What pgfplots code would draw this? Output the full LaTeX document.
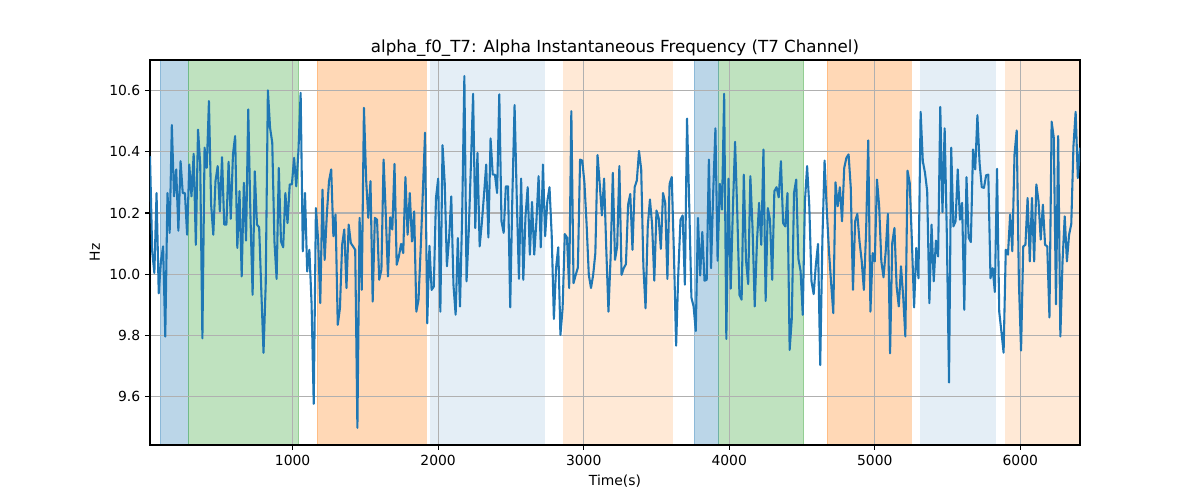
\documentclass[border=0pt]{standalone}
\usepackage{pgfplots}
\pgfplotsset{compat=1.18}
\usepackage{pgfplotstable}
\usepackage{fontspec}
\setmainfont{DejaVu Sans}
\definecolor{tabblue}{HTML}{1F77B4}
\definecolor{taborange}{HTML}{FF7F0E}
\definecolor{tabgreen}{HTML}{2CA02C}
\definecolor{gridgray}{HTML}{B0B0B0}
\pgfplotstableread{
y
10.385
10.075
10.004
10.265
9.938
10.042
10.091
9.797
10.265
10.135
10.487
10.254
10.342
10.142
10.369
10.265
10.265
10.129
10.358
10.254
10.393
10.096
10.472
10.358
9.791
10.413
10.347
10.565
10.227
10.129
10.304
10.353
10.205
10.382
10.162
10.162
10.367
10.181
10.391
10.451
10.086
10.271
9.993
10.298
10.110
10.538
10.195
9.933
10.336
10.162
10.153
9.944
9.744
9.966
10.600
10.478
10.429
10.107
9.985
10.347
10.107
10.088
10.265
10.167
10.293
10.293
10.380
10.287
10.402
10.592
10.075
10.265
10.009
10.080
9.906
9.577
10.216
10.113
9.906
10.276
10.047
10.195
10.304
10.342
10.124
10.195
9.835
9.889
10.096
10.146
9.955
10.162
10.102
10.091
10.080
9.499
10.184
9.949
10.543
10.309
10.184
10.304
9.911
10.184
10.178
9.982
10.015
10.374
10.195
9.993
10.186
10.146
10.360
10.031
10.058
10.099
10.069
10.317
10.129
10.265
10.107
10.205
9.878
9.917
10.086
10.271
10.462
9.840
10.093
9.949
9.960
10.249
10.312
9.878
10.421
10.298
10.026
10.118
10.254
9.966
9.868
10.118
9.895
10.195
10.647
9.977
10.140
10.358
10.589
10.151
10.396
10.091
10.167
10.260
10.358
10.120
10.443
10.325
10.325
10.265
10.587
10.173
10.135
10.287
10.287
9.892
10.260
10.552
10.249
9.985
10.312
9.982
10.189
10.284
10.064
10.236
10.064
10.173
10.320
10.088
10.358
10.124
10.238
10.284
10.129
9.854
10.020
10.088
9.802
9.889
10.131
10.120
9.955
10.532
9.971
9.998
10.022
10.374
10.371
10.298
10.162
9.998
9.955
9.998
10.069
10.389
10.295
10.192
10.312
10.083
9.878
10.058
10.331
10.047
10.091
10.353
9.998
10.020
10.033
10.227
10.262
10.080
10.284
10.306
10.402
10.342
10.026
9.889
10.156
10.244
10.162
9.979
10.208
10.184
10.083
10.265
10.233
9.985
10.295
10.317
10.064
9.767
10.004
10.178
10.192
9.966
10.508
10.227
9.924
9.895
9.815
10.184
9.996
10.138
9.979
9.982
10.374
10.020
10.271
10.476
10.044
10.295
10.211
10.589
9.789
10.312
9.953
10.214
10.432
10.203
9.933
9.917
10.325
10.047
9.968
10.320
10.151
9.895
10.102
10.233
10.096
10.407
9.913
10.216
10.178
9.982
10.271
10.284
10.251
10.369
10.167
10.156
10.265
9.753
9.857
10.265
10.309
10.051
10.011
9.868
10.238
10.353
10.222
9.977
9.935
10.031
10.099
9.704
10.113
10.371
10.211
10.077
9.971
9.873
10.300
10.222
10.284
10.173
10.347
10.380
10.391
10.282
9.949
10.173
10.197
10.107
10.044
9.949
10.135
10.437
9.878
10.069
10.042
10.309
10.222
10.042
9.990
10.075
10.197
9.742
10.102
10.151
9.960
9.895
10.026
9.928
9.797
10.338
10.298
10.107
9.892
10.086
9.987
10.530
10.369
10.331
10.271
9.906
10.162
9.977
10.110
10.058
10.546
10.203
10.476
10.129
9.647
10.413
10.156
10.173
10.342
10.178
10.233
9.884
10.317
10.120
10.105
10.407
10.342
10.519
10.363
10.284
10.282
10.323
10.325
9.987
10.020
9.942
10.344
9.878
9.813
9.744
10.080
10.064
10.195
10.075
10.391
10.469
9.977
9.751
10.091
10.096
10.249
10.042
10.249
10.042
10.293
10.238
10.113
10.227
10.096
10.091
9.859
10.498
10.445
9.902
10.451
9.797
10.042
10.189
10.042
10.129
10.164
10.418
10.530
10.314
10.413
}\datatable
\pgfplotsset{
  common/.style={
    at={(0pt,0pt)}, anchor=south west,
    width=669.6pt, height=277.2pt, scale only axis,
    xmin=20, xmax=6410, ymin=9.443, ymax=10.699,
    clip=true,
  },
  span/.style={forget plot},
}
\begin{document}
\begin{tikzpicture}
\path[use as bounding box] (-108pt,-39.6pt) rectangle (756pt,320.4pt);
% background axis: shaded spans only
\begin{axis}[common, hide axis]
\addplot[span, fill=tabblue, fill opacity=0.3, draw=tabblue, draw opacity=0.3] coordinates {(91,9.3) (91,10.8) (281,10.8) (281,9.3)} -- cycle;
\addplot[span, fill=tabgreen, fill opacity=0.3, draw=tabgreen, draw opacity=0.3] coordinates {(281,9.3) (281,10.8) (1041,10.8) (1041,9.3)} -- cycle;
\addplot[span, fill=taborange, fill opacity=0.3, draw=taborange, draw opacity=0.3] coordinates {(1168,9.3) (1168,10.8) (1917,10.8) (1917,9.3)} -- cycle;
\addplot[span, fill=tabblue, fill opacity=0.12, draw=none] coordinates {(1946,9.3) (1946,10.8) (2735,10.8) (2735,9.3)} -- cycle;
\addplot[span, fill=taborange, fill opacity=0.17, draw=none] coordinates {(2861,9.3) (2861,10.8) (3614,10.8) (3614,9.3)} -- cycle;
\addplot[span, fill=tabblue, fill opacity=0.3, draw=tabblue, draw opacity=0.3] coordinates {(3761,9.3) (3761,10.8) (3928,10.8) (3928,9.3)} -- cycle;
\addplot[span, fill=tabgreen, fill opacity=0.3, draw=tabgreen, draw opacity=0.3] coordinates {(3928,9.3) (3928,10.8) (4512,10.8) (4512,9.3)} -- cycle;
\addplot[span, fill=taborange, fill opacity=0.3, draw=taborange, draw opacity=0.3] coordinates {(4673,9.3) (4673,10.8) (5252,10.8) (5252,9.3)} -- cycle;
\addplot[span, fill=tabblue, fill opacity=0.12, draw=none] coordinates {(5314,9.3) (5314,10.8) (5830,10.8) (5830,9.3)} -- cycle;
\addplot[span, fill=taborange, fill opacity=0.17, draw=none] coordinates {(5892,9.3) (5892,10.8) (6500,10.8) (6500,9.3)} -- cycle;
\end{axis}
% main axis: grid, ticks, signal
\begin{axis}[common,
  xtick={1000,2000,3000,4000,5000,6000},
  ytick={9.6,9.8,10.0,10.2,10.4,10.6},
  scaled x ticks=false, scaled y ticks=false,
  xticklabel style={/pgf/number format/.cd, fixed, set thousands separator={}, assume math mode=true},
  yticklabel style={/pgf/number format/.cd, fixed, fixed zerofill, precision=1, assume math mode=true},
  tick label style={font=\fontsize{10}{12}\selectfont},
  label style={font=\fontsize{10}{12}\selectfont},
  tick align=outside, xtick pos=bottom, ytick pos=left,
  major tick length=3.5pt,
  every tick/.style={black, line width=0.8pt},
  axis line style={black, line width=0.8pt},
  grid=major,
  grid style={gridgray, line width=0.8pt},
  title={alpha\_f0\_T7: Alpha Instantaneous Frequency (T7 Channel)},
  title style={font=\fontsize{12}{14}\selectfont, at={(0.5,1)}, anchor=south, inner sep=0pt, yshift=-3.4pt},
  xlabel={Time(s)},
  ylabel={Hz},
]
\addplot[tabblue, line width=1.5pt, mark=none, line join=round] table[x expr=\coordindex*15+20, y=y] {\datatable};
\end{axis}
\end{tikzpicture}
\end{document}
